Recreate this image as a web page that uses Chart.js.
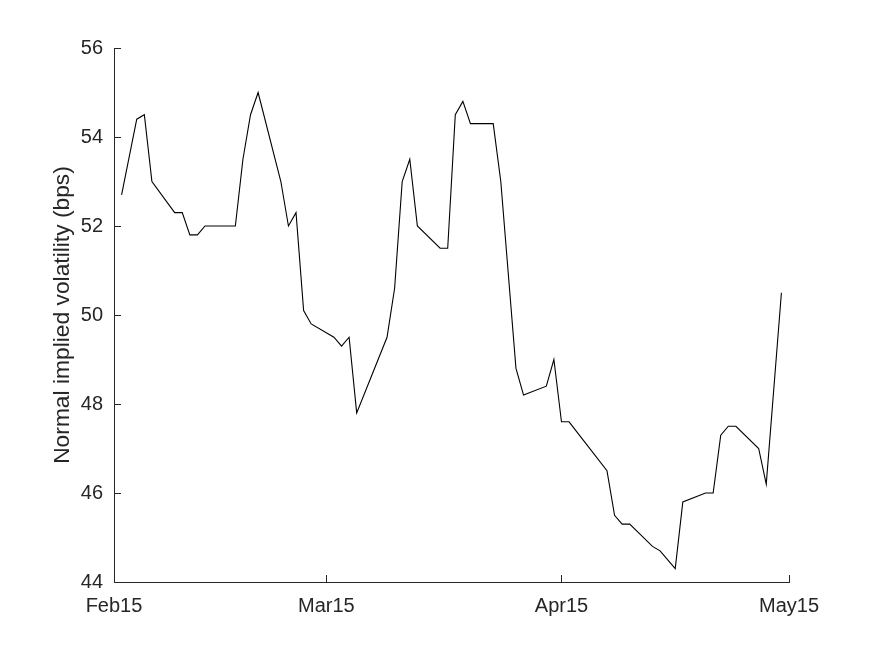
<!DOCTYPE html>
<html>
<head>
<meta charset="utf-8">
<title>Normal implied volatility</title>
<script src="https://cdn.jsdelivr.net/npm/chart.js@4/dist/chart.umd.min.js"></script>
<style>
  html, body { margin: 0; padding: 0; background: #fff; }
  canvas { display: block; }
</style>
</head>
<body>
<canvas id="volChart" width="872" height="654"></canvas>
<script>
// Observation dates (2015) and normal implied vol in bps
const obsDates = [
  '2015-02-16', '2015-02-18', '2015-02-19', '2015-02-20', '2015-02-23', '2015-02-24',
  '2015-02-25', '2015-02-26', '2015-02-27', '2015-03-02', '2015-03-03', '2015-03-04',
  '2015-03-05', '2015-03-06', '2015-03-09', '2015-03-10', '2015-03-11', '2015-03-12',
  '2015-03-13', '2015-03-16', '2015-03-17', '2015-03-18', '2015-03-19', '2015-03-23',
  '2015-03-24', '2015-03-25', '2015-03-26', '2015-03-27', '2015-03-30', '2015-03-31',
  '2015-04-01', '2015-04-02', '2015-04-03', '2015-04-06', '2015-04-07', '2015-04-09',
  '2015-04-10', '2015-04-13', '2015-04-14', '2015-04-15', '2015-04-16', '2015-04-21',
  '2015-04-22', '2015-04-23', '2015-04-24', '2015-04-27', '2015-04-28', '2015-04-30',
  '2015-05-01', '2015-05-04', '2015-05-05', '2015-05-06', '2015-05-07', '2015-05-08',
  '2015-05-11', '2015-05-12', '2015-05-14'
];
const volBps = [
  52.7, 54.4, 54.5, 53.0, 52.3, 52.3,
  51.8, 51.8, 52.0, 52.0, 52.0, 53.5,
  54.5, 55.0, 53.0, 52.0, 52.3, 50.1,
  49.8, 49.5, 49.3, 49.5, 47.8, 49.5,
  50.6, 53.0, 53.5, 52.0, 51.5, 51.5,
  54.5, 54.8, 54.3, 54.3, 53.0, 48.8,
  48.2, 48.4, 49.0, 47.6, 47.6, 46.5,
  45.5, 45.3, 45.3, 44.8, 44.7, 44.3,
  45.8, 46.0, 46.0, 47.3, 47.5, 47.5,
  47.0, 46.2, 50.5
];

// Axis ticks
const xTickDates = ['2015-02-15', '2015-03-15', '2015-04-15', '2015-05-15'];
const xTickLabels = ['Feb15', 'Mar15', 'Apr15', 'May15'];
const yMin = 44, yMax = 56, yStep = 2;

const axisColor = '#262626';
const tickFont = { family: 'Liberation Sans, Arial, Helvetica, sans-serif', size: 20 };

// day offset from the first tick date
const dayMs = 24 * 3600 * 1000;
const origin = Date.parse(xTickDates[0] + 'T00:00:00Z');
const toDay = d => Math.round((Date.parse(d + 'T00:00:00Z') - origin) / dayMs);
const xTickDays = xTickDates.map(toDay);
const points = obsDates.map((d, i) => ({ x: toDay(d), y: volBps[i] }));

// MATLAB-style inward tick marks
const inwardTicks = {
  id: 'inwardTicks',
  afterDraw(chart) {
    const { ctx, chartArea, scales } = chart;
    const len = 7;
    ctx.save();
    ctx.strokeStyle = axisColor;
    ctx.lineWidth = 1;
    ctx.beginPath();
    scales.x.ticks.forEach(t => {
      const px = Math.round(scales.x.getPixelForValue(t.value)) + 0.5;
      ctx.moveTo(px, chartArea.bottom);
      ctx.lineTo(px, chartArea.bottom - len);
    });
    scales.y.ticks.forEach(t => {
      const py = Math.round(scales.y.getPixelForValue(t.value)) + 0.5;
      ctx.moveTo(chartArea.left, py);
      ctx.lineTo(chartArea.left + len, py);
    });
    ctx.stroke();
    ctx.restore();
  }
};

new Chart(document.getElementById('volChart'), {
  type: 'line',
  data: {
    datasets: [{
      data: points,
      borderColor: '#000000',
      borderWidth: 1.1,
      pointRadius: 0,
      tension: 0,
      fill: false
    }]
  },
  options: {
    responsive: false,
    animation: false,
    devicePixelRatio: 1,
    layout: { padding: { left: 0, right: 83, top: 48, bottom: 0 } },
    plugins: { legend: { display: false }, tooltip: { enabled: false } },
    scales: {
      x: {
        type: 'linear',
        min: xTickDays[0],
        max: xTickDays[xTickDays.length - 1],
        afterBuildTicks: scale => { scale.ticks = xTickDays.map(v => ({ value: v })); },
        afterFit: scale => { scale.height = 72; },
        grid: { display: true, drawOnChartArea: false, drawTicks: false },
        border: { display: true, color: axisColor, width: 1 },
        ticks: {
          color: axisColor,
          font: tickFont,
          padding: 12,
          maxRotation: 0,
          autoSkip: false,
          callback: v => xTickLabels[xTickDays.indexOf(v)]
        }
      },
      y: {
        min: yMin,
        max: yMax,
        afterFit: scale => { scale.width = 114; },
        grid: { display: true, drawOnChartArea: false, drawTicks: false },
        border: { display: true, color: axisColor, width: 1 },
        ticks: { stepSize: yStep, color: axisColor, font: tickFont, padding: 11 },
        title: {
          display: true,
          text: 'Normal implied volatility (bps)',
          color: axisColor,
          font: { family: tickFont.family, size: 22.8, lineHeight: 1 },
          padding: { top: 51, bottom: 0 }
        }
      }
    }
  },
  plugins: [inwardTicks]
});
</script>
</body>
</html>
